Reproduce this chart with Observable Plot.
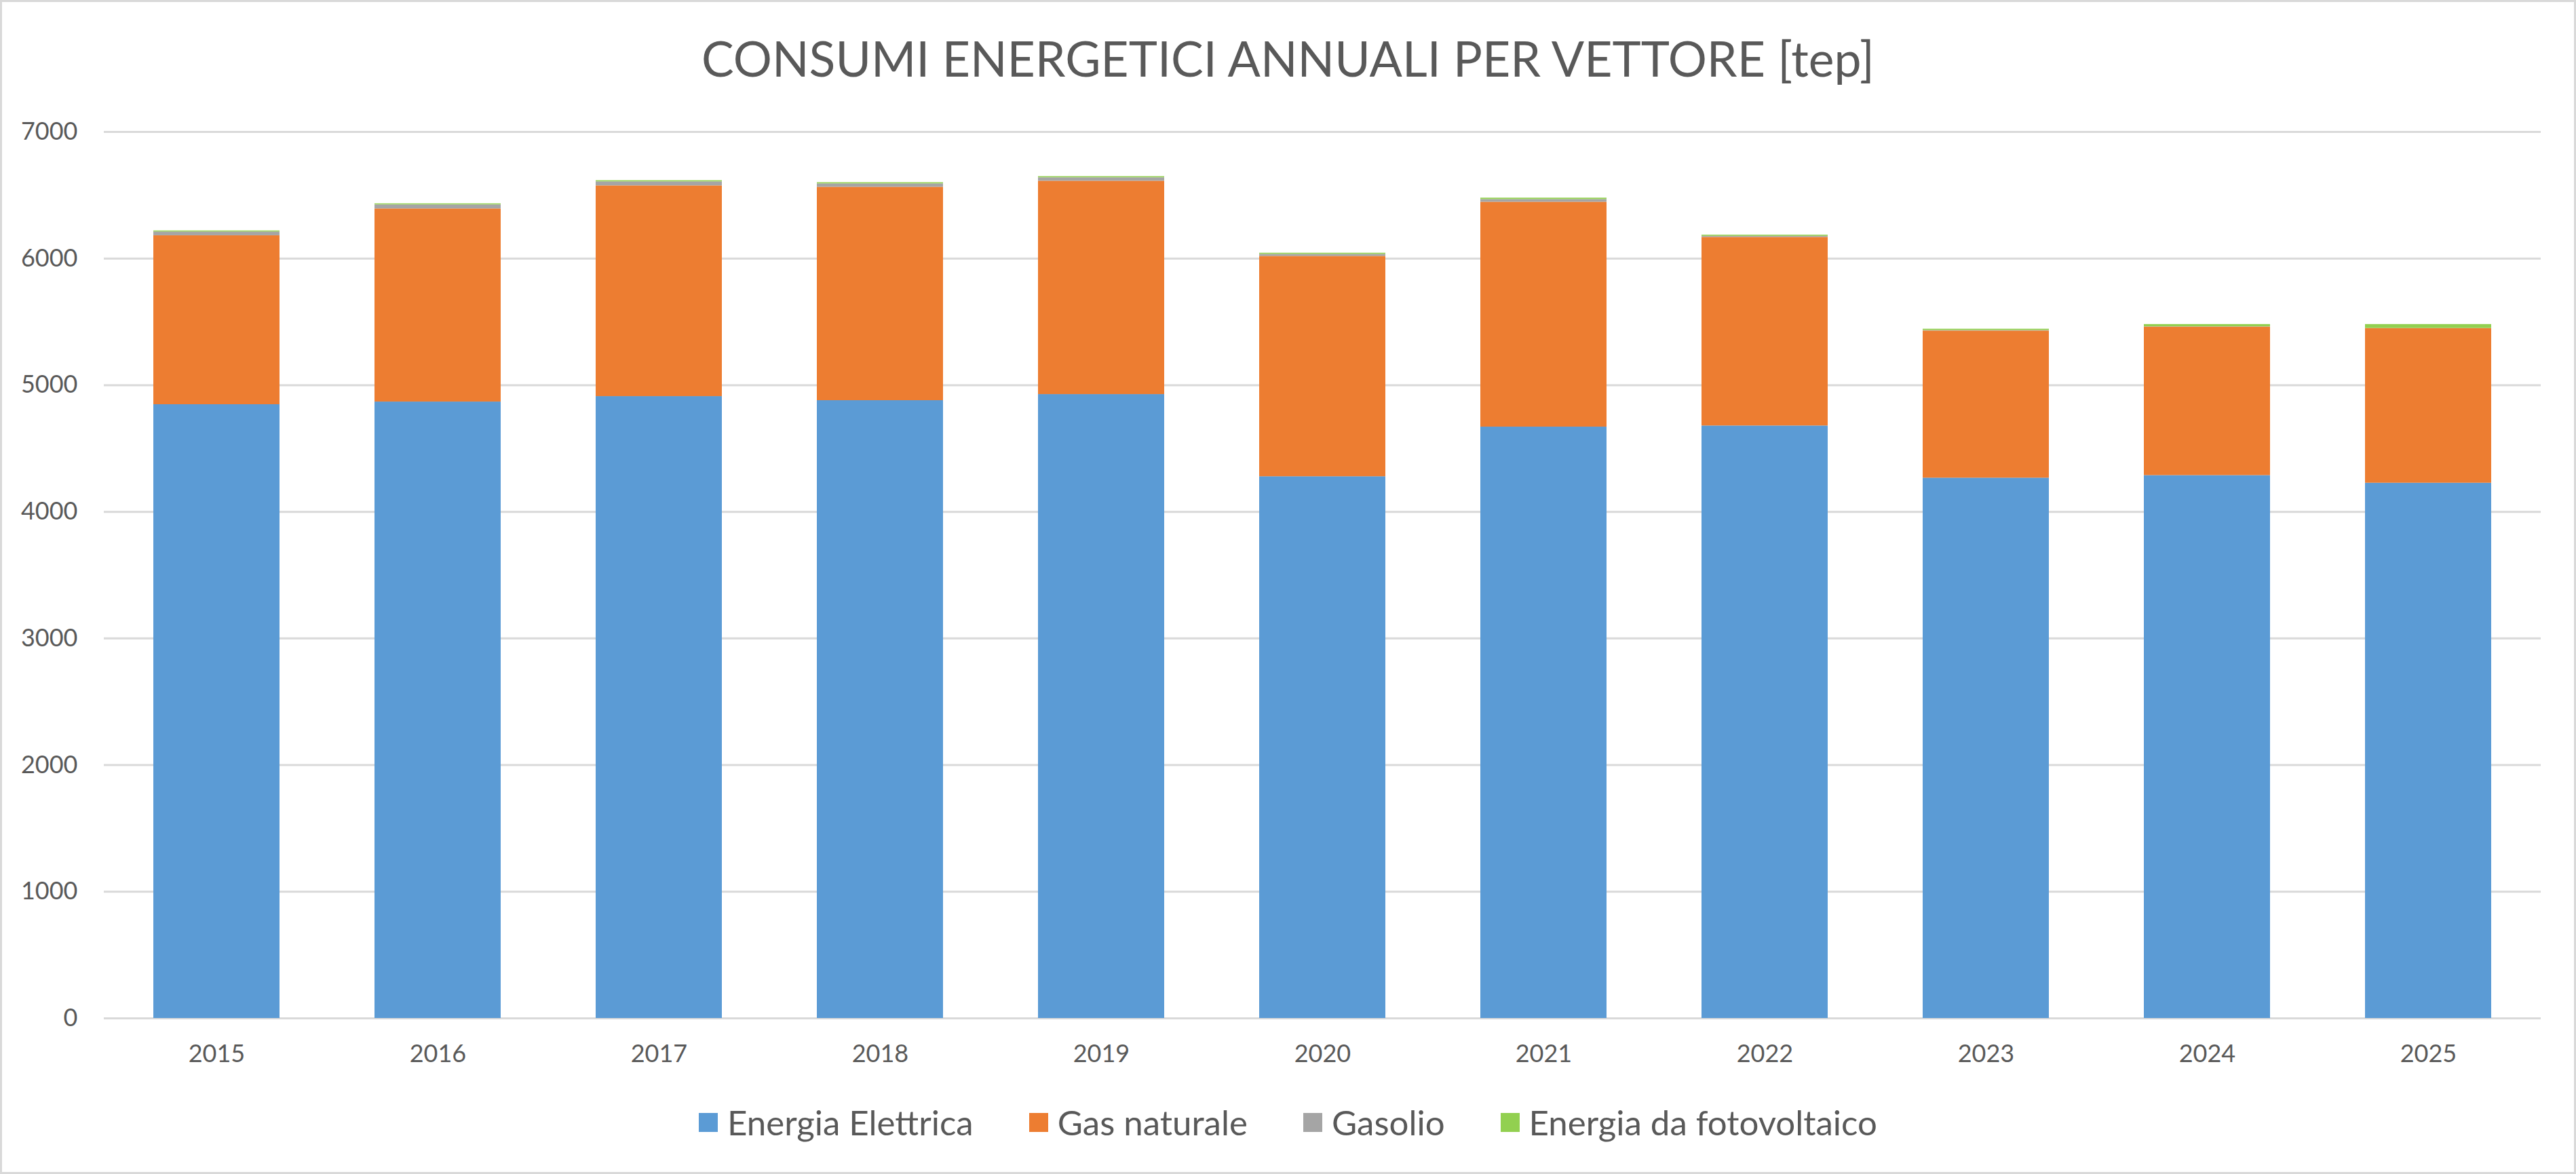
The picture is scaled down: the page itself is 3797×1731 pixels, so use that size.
<!DOCTYPE html>
<html>
<head>
<meta charset="utf-8">
<script src="https://cdn.jsdelivr.net/npm/d3@7"></script>
<script src="https://cdn.jsdelivr.net/npm/@observablehq/plot@0.6"></script>
<style>
  html, body { margin: 0; padding: 0; background: #ffffff; overflow: hidden; }
  #chart { position: relative; width: 3797px; height: 1731px; background: #ffffff;
           box-shadow: inset 0 0 0 3px #d9d9d9; font-family: Lato, "Open Sans", sans-serif; }
  #title { position: absolute; left: 0; top: 49px; width: 3797px; text-align: center;
           font-size: 71.5px; line-height: 72px; color: #595959; font-weight: 400; }
  #plot { position: absolute; left: 0; top: 140px; }
  #legend { position: absolute; left: 0; top: 1625px; width: 3797px; display: flex;
            justify-content: center; align-items: center; height: 60px; }
  .item { display: flex; align-items: center; margin: 0 41px; }
  .sw { width: 28px; height: 28px; margin-right: 14px; }
  .lb { font-size: 51px; color: #595959; line-height: 60px; }
</style>
</head>
<body>
<div id="chart">
  <div id="title"></div>
  <div id="plot"></div>
  <div id="legend"></div>
</div>
<script>
const titleText = "CONSUMI ENERGETICI ANNUALI PER VETTORE [tep]";
const years = ["2015","2016","2017","2018","2019","2020","2021","2022","2023","2024","2025"];
const seriesNames = ["Energia Elettrica","Gas naturale","Gasolio","Energia da fotovoltaico"];
const seriesColors = ["#5B9BD5","#ED7D31","#A5A5A5","#92D050"];
const energiaElettrica = [4847, 4868, 4911, 4879, 4927, 4278, 4670, 4679, 4267, 4287, 4227];
const gasNaturale      = [1334, 1525, 1664, 1685, 1685, 1740, 1776, 1489, 1162, 1173, 1222];
const gasolio          = [30, 32, 32, 27, 27, 16, 21, 9, 4, 2, 0];
const fotovoltaico     = [8, 8, 9, 9, 9, 9, 11, 9, 10, 18, 31];
const yTicks = [0,1000,2000,3000,4000,5000,6000,7000];

const seriesValues = [energiaElettrica, gasNaturale, gasolio, fotovoltaico];
const rows = [];
years.forEach((yr, i) => {
  seriesNames.forEach((s, k) => rows.push({year: yr, series: s, value: seriesValues[k][i]}));
});

document.getElementById("title").textContent = titleText;

const chart = Plot.plot({
  width: 3797,
  height: 1460,
  marginTop: 54,
  marginBottom: 99,
  marginLeft: 153,
  marginRight: 52,
  style: {fontFamily: "Lato, 'Open Sans', sans-serif", fontSize: "36px", color: "#595959", background: "transparent"},
  x: {domain: years, paddingInner: 0.4286, paddingOuter: 0.2143, label: null},
  y: {domain: [0, 7000], label: null},
  color: {domain: seriesNames, range: seriesColors},
  marks: [
    Plot.gridY(yTicks, {stroke: "#d9d9d9", strokeOpacity: 1, strokeWidth: 3}),
    Plot.barY(rows, {x: "year", y: "value", fill: "series", order: seriesNames}),
    Plot.axisX({tickSize: 0, tickPadding: 39, label: null, fill: "#595959"}),
    Plot.axisY(yTicks, {tickSize: 0, tickPadding: 39, label: null, fill: "#595959", tickFormat: d => String(d)})
  ]
});
document.getElementById("plot").appendChild(chart);

const legend = document.getElementById("legend");
seriesNames.forEach((s, k) => {
  const it = document.createElement("div");
  it.className = "item";
  const sw = document.createElement("div");
  sw.className = "sw";
  sw.style.background = seriesColors[k];
  const lb = document.createElement("span");
  lb.className = "lb";
  lb.textContent = s;
  it.appendChild(sw); it.appendChild(lb);
  legend.appendChild(it);
});
</script>
</body>
</html>
